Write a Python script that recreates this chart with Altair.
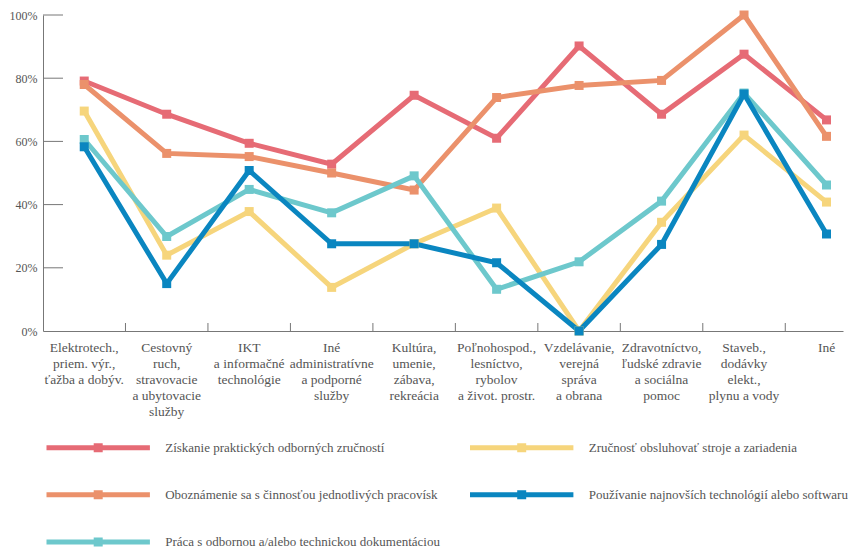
import altair as alt
import pandas as pd

categories = [
    "Elektrotech.,\npriem. výr.,\nťažba a dobýv.",
    "Cestovný\nruch,\nstravovacie\na ubytovacie\nslužby",
    "IKT\na informačné\ntechnológie",
    "Iné\nadministratívne\na podporné\nslužby",
    "Kultúra,\numenie,\nzábava,\nrekreácia",
    "Poľnohospod.,\nlesníctvo,\nrybolov\na život. prostr.",
    "Vzdelávanie,\nverejná\nspráva\na obrana",
    "Zdravotníctvo,\nľudské zdravie\na sociálna\npomoc",
    "Staveb.,\ndodávky\nelekt.,\nplynu a vody",
    "Iné",
]

series_names = [
    "Získanie praktických odborných zručností",
    "Oboznámenie sa s činnosťou jednotlivých pracovísk",
    "Zručnosť obsluhovať stroje a zariadenia",
    "Práca s odbornou a/alebo technickou dokumentáciou",
    "Používanie najnovších technológií alebo softwaru",
]
prakticke = [79.1, 68.6, 59.4, 52.8, 74.6, 61.0, 90.2, 68.6, 87.6, 66.8]
oboznamenie = [78.0, 56.2, 55.2, 50.0, 44.6, 73.9, 77.7, 79.3, 100.0, 61.6]
obsluha = [69.6, 24.0, 37.8, 13.8, 27.6, 38.9, 0.0, 34.4, 62.0, 40.8]
dokumentacia = [60.6, 29.9, 44.8, 37.4, 49.1, 13.2, 21.9, 41.1, 75.3, 46.2]
technologie = [58.3, 15.0, 50.8, 27.6, 27.6, 21.6, 0.0, 27.4, 75.0, 30.7]
series_values = [prakticke, oboznamenie, obsluha, dokumentacia, technologie]

legend_order = [
    "Získanie praktických odborných zručností",
    "Zručnosť obsluhovať stroje a zariadenia",
    "Oboznámenie sa s činnosťou jednotlivých pracovísk",
    "Používanie najnovších technológií alebo softwaru",
    "Práca s odbornou a/alebo technickou dokumentáciou",
]
legend_colors = ["#e66b75", "#f6d57c", "#eb916b", "#0a86c0", "#6dc8cc"]

y_tick_values = [0, 20, 40, 60, 80, 100]
inner_y_ticks = [20, 40, 60, 80, 100]
category_boundaries = [0.5, 1.5, 2.5, 3.5, 4.5, 5.5, 6.5, 7.5, 8.5]

rows = []
for name, vals in zip(series_names, series_values):
    for i, v in enumerate(vals):
        rows.append({"series": name, "idx": i, "value": v})
df = pd.DataFrame(rows)
cat_df = pd.DataFrame({"idx": list(range(len(categories))), "label": categories})
bound_df = pd.DataFrame({"b": category_boundaries})
ytick_df = pd.DataFrame({"tickval": inner_y_ticks, "pos": [0] * len(inner_y_ticks)})

W, H = 800, 316
FONT = "Liberation Serif"
TXT = "#555555"
AX = "#777777"

xscale = alt.Scale(domain=[-0.5, 9.2], nice=False, zero=False)
yscale = alt.Scale(domain=[0, 100], nice=False, zero=False)

x_axis = alt.Axis(title=None, labels=False, ticks=False, grid=False,
                  domainColor=AX, domainWidth=1)
y_axis = alt.Axis(title=None, values=y_tick_values, labelExpr="datum.value + '%'",
                  ticks=False, grid=False, domainColor=AX, domainWidth=1,
                  labelFont=FONT, labelFontSize=12, labelColor=TXT, labelPadding=6)

# legend symbol: thick line with a square marker in the middle (units of 5 px)
sym_path = ("M-0.8,0L19.88,0 "
            "M9.14,-0.4L9.94,-0.4L9.94,0.4L9.14,0.4Z")

lines = alt.Chart(df).mark_line(strokeWidth=5, strokeJoin="miter").encode(
    x=alt.X("idx:Q", scale=xscale, axis=x_axis),
    y=alt.Y("value:Q", scale=yscale, axis=y_axis),
    stroke=alt.Stroke("series:N", scale=alt.Scale(domain=legend_order, range=legend_colors),
                      legend=alt.Legend(title=None, orient="bottom", columns=2,
                                        offset=99, padding=0,
                                        symbolType=sym_path, symbolSize=100,
                                        symbolStrokeWidth=5,
                                        labelOffset=107.2, rowPadding=22.2,
                                        columnPadding=19.5,
                                        labelFont=FONT, labelFontSize=13.0, labelColor=TXT,
                                        labelLimit=500)),
    detail="series:N",
)

squares = alt.Chart(df).mark_square(size=81, opacity=1).encode(
    x=alt.X("idx:Q", scale=xscale, axis=x_axis),
    y=alt.Y("value:Q", scale=yscale, axis=y_axis),
    fill=alt.Fill("series:N", scale=alt.Scale(domain=legend_order, range=legend_colors), legend=None),
)

xticks = alt.Chart(bound_df).mark_rule(color=AX, strokeWidth=1).encode(
    x=alt.X("b:Q", scale=xscale, axis=x_axis),
    y=alt.value(H - 8), y2=alt.value(H),
)

yticks = alt.Chart(ytick_df).mark_rule(color=AX, strokeWidth=1).encode(
    y=alt.Y("tickval:Q", scale=yscale, axis=y_axis),
    x=alt.value(0), x2=alt.value(20),
)

labels = alt.Chart(cat_df).mark_text(
    font=FONT, fontSize=13.5, color=TXT, align="center", baseline="alphabetic",
    lineBreak="\n", lineHeight=16,
).encode(
    x=alt.X("idx:Q", scale=xscale, axis=x_axis),
    y=alt.value(H + 21.3),
    text="label:N",
)

chart = alt.layer(lines, xticks, yticks, squares, labels).properties(
    width=W, height=H,
    autosize=alt.AutoSizeParams(type="none"),
    padding={"left": 35, "top": 7, "right": 5, "bottom": 240},
).configure_view(stroke=None)

chart.save("out.html", embed_options={"renderer": "svg", "actions": False})
